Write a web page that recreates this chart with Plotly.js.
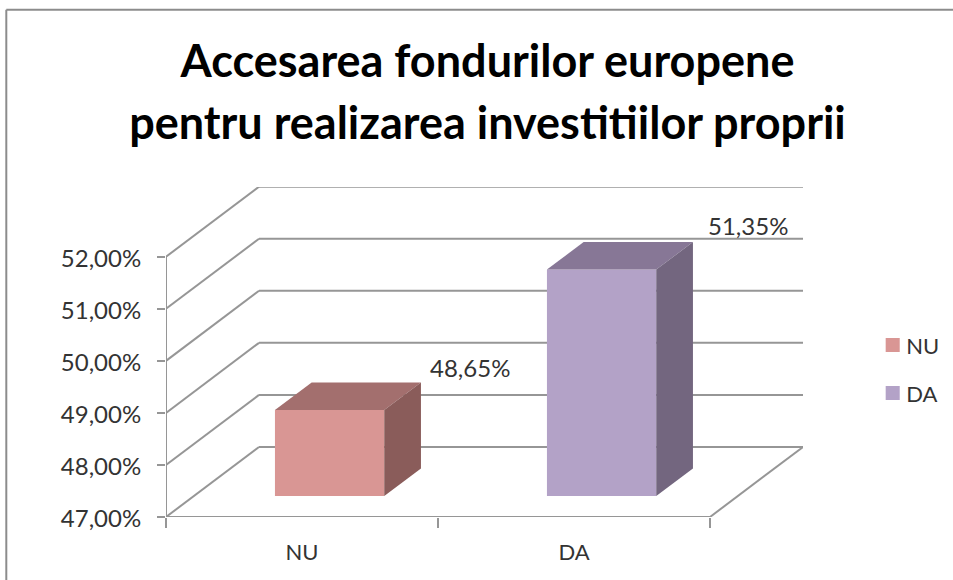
<!DOCTYPE html>
<html>
<head>
<meta charset="utf-8">
<script src="https://cdn.plot.ly/plotly-3.0.1.min.js"></script>
<style>html,body{margin:0;padding:0;background:#fff}#chart{width:953px;height:580px}</style>
</head>
<body>
<div id="chart"></div>
<script>
// ---- data ----
var categories = ['NU', 'DA'];
var values = [48.65, 51.35];
var yTicks = [47, 48, 49, 50, 51, 52];
var titleLines = ['Accesarea fondurilor europene', 'pentru realizarea investitiilor proprii'];
var frontColors = ['#D99694', '#B3A2C7'];
var topColors = ['#A36F6E', '#877796'];
var sideColors = ['#8A5C5A', '#73667F'];

// ---- layout constants ----
var W = 953, H = 580;
var L = 165.7, R = 802.7, T = 187, B = 516.7;
var wallDX = 93, wallDY = 70;           // px depth of the floor
var barDX = 36.7, barDY = 27.5;         // px depth of a bar
var barFrontDX = 27.6, barFrontDY = 21; // px bar front is set back from the front edge
var pxPerCat = 272, pxPerUnit = 52;
var barW = 109.3 / pxPerCat;
var base = yTicks[0];
var xMin = -0.5, xMax = 1.5;
var xEnd = xMax + wallDX / pxPerCat;
var yEnd = base + (B - T) / pxPerUnit;
var gridColor = '#969696';
var textColor = '#333333';
var font = 'Lato, Carlito, Calibri, sans-serif';

function fmt(v) { return v.toFixed(2).replace('.', ',') + '%'; }

var traces = [];
var ox = barFrontDX / pxPerCat, oy = barFrontDY / pxPerUnit;
var bx = barDX / pxPerCat, by = barDY / pxPerUnit;

// front faces: real bar traces
categories.forEach(function (c, i) {
  traces.push({
    type: 'bar', name: c, legendgroup: c,
    x: [i + ox], y: [values[i] - base], base: [base + oy], width: [barW],
    marker: { color: frontColors[i], line: { width: 0 } },
    hoverinfo: 'skip'
  });
});
// top and side faces, derived from the same values
categories.forEach(function (c, i) {
  var x0 = i + ox - barW / 2, x1 = i + ox + barW / 2;
  var y0 = base + oy, y1 = values[i] + oy;
  traces.push({
    type: 'scatter', mode: 'lines', showlegend: false, hoverinfo: 'skip', cliponaxis: false,
    x: [x0, x1, x1 + bx, x0 + bx, x0], y: [y1, y1, y1 + by, y1 + by, y1],
    fill: 'toself', fillcolor: topColors[i], line: { width: 0, color: topColors[i] }
  });
  traces.push({
    type: 'scatter', mode: 'lines', showlegend: false, hoverinfo: 'skip', cliponaxis: false,
    x: [x1, x1 + bx, x1 + bx, x1, x1], y: [y0, y0 + by, y1 + by, y1, y0],
    fill: 'toself', fillcolor: sideColors[i], line: { width: 0, color: sideColors[i] }
  });
});

// back-wall gridlines, floor and axis lines
var wx = wallDX / pxPerCat, wy = wallDY / pxPerUnit;
function seg(x0, y0, x1, y1) {
  return { type: 'line', xref: 'x', yref: 'y', layer: 'below', x0: x0, y0: y0, x1: x1, y1: y1,
           line: { color: gridColor, width: 2 } };
}
var shapes = [];
yTicks.forEach(function (t) {
  shapes.push(seg(xMin, t, xMin + wx, t + wy));
  shapes.push(seg(xMin + wx, t + wy, xMax + wx, t + wy));
});
shapes.push(seg(xMin, base, xMax, base));
shapes.push(seg(xMax, base, xMax + wx, base + wy));
shapes.push(seg(xMin, base, xMin, yTicks[yTicks.length - 1]));
// outer frame: only its top and left edges are inside the picture
function frame(x0, y0, x1, y1) {
  return { type: 'line', xref: 'paper', yref: 'paper',
           x0: (x0 - L) / (R - L), x1: (x1 - L) / (R - L),
           y0: (B - y0) / (B - T), y1: (B - y1) / (B - T),
           line: { color: '#8C8C8C', width: 2 } };
}
shapes.push(frame(6, 10, W, 10));
shapes.push(frame(6, 10, 6, H));

var annotations = [[49, 15], [55, 17]].map(function (s, i) {
  return {
    xref: 'x', yref: 'y', x: i + ox + barW / 2 + bx, y: values[i] + oy + by,
    text: fmt(values[i]), showarrow: false, xanchor: 'center', yanchor: 'middle',
    xshift: s[0], yshift: s[1], font: { family: font, size: 24, color: textColor }
  };
});

var layout = {
  width: W, height: H, autosize: false,
  paper_bgcolor: '#fff', plot_bgcolor: 'rgba(0,0,0,0)',
  margin: { l: L, r: W - R, t: T, b: H - B, pad: 0, autoexpand: false },
  barmode: 'overlay', showlegend: true,
  title: {
    text: titleLines.map(function (s) { return '<span style="font-size:45px">' + s + '</span>'; }).join('<br>'),
    font: { family: font, size: 48, color: '#000', weight: 'bold' },
    x: 487.5 / W, xanchor: 'center', xref: 'container', y: 1 - 77 / H, yanchor: 'top', yref: 'container'
  },
  font: { family: font, size: 22, color: textColor },
  xaxis: {
    range: [xMin, xEnd], tickmode: 'array', tickvals: [0, 1], ticktext: categories,
    ticks: '', showgrid: false, zeroline: false, showline: false, fixedrange: true,
    tickfont: { family: font, size: 22, color: textColor }, automargin: false, ticklabelstandoff: 20,
    minor: { tickmode: 'array', tickvals: [xMin, 0.5, xMax], ticks: 'outside', ticklen: 10, tickwidth: 2, tickcolor: gridColor, showgrid: false }
  },
  yaxis: {
    range: [base, yEnd], tickmode: 'array', tickvals: yTicks, ticktext: yTicks.map(fmt),
    ticks: 'outside', ticklen: 8, tickwidth: 2, tickcolor: gridColor,
    showgrid: false, zeroline: false, showline: false, fixedrange: true, ticklabelshift: 2,
    tickfont: { family: font, size: 24, color: textColor }, automargin: false, ticklabelstandoff: 11
  },
  legend: {
    x: (866 - L) / (R - L), xref: 'paper', xanchor: 'left',
    y: (B - 324) / (B - T), yref: 'paper', yanchor: 'top',
    font: { family: font, size: 22, color: textColor },
    bgcolor: 'rgba(0,0,0,0)', tracegroupgap: 16.5
  },
  shapes: shapes, annotations: annotations
};

Plotly.newPlot('chart', traces, layout, { displayModeBar: false, staticPlot: true }).then(function (gd) {
  // legend swatches sit closer to their labels and are a little larger in the reference
  gd.querySelectorAll('.legend .legendpoints').forEach(function (g) {
    g.setAttribute('transform', 'translate(3,0) scale(1.17)');
  });
});
</script>
</body>
</html>
